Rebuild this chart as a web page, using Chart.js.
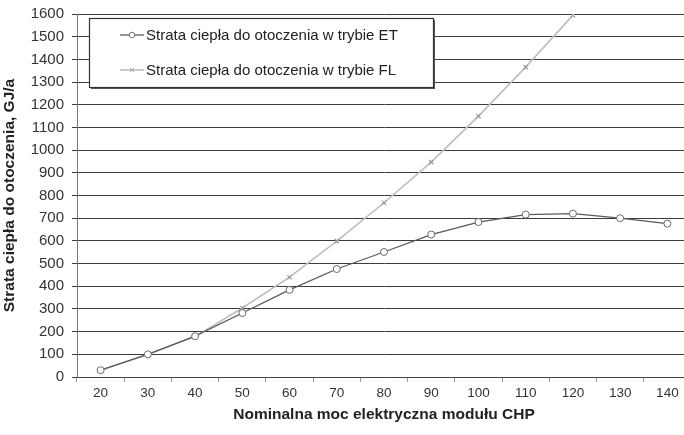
<!DOCTYPE html>
<html>
<head>
<meta charset="utf-8">
<script src="https://cdn.jsdelivr.net/npm/chart.js@4/dist/chart.umd.min.js"></script>
<style>
html,body{margin:0;padding:0;background:#fff;overflow:hidden;width:684px;height:435px;}
#wrap{position:relative;width:700px;height:435px;}
</style>
</head>
<body>
<div id="wrap"><canvas id="c"></canvas></div>
<script>
const categories = ['20','30','40','50','60','70','80','90','100','110','120','130','140'];
const lossET = [30, 100, 180, 282, 384, 476, 551, 628, 683, 716, 720, 700, 676];
const lossFL = [30, 100, 178, 304, 440, 599, 768, 947, 1150, 1366, 1595, 1830, 2060];
const seriesNames = ['Strata ciepła do otoczenia w trybie ET', 'Strata ciepła do otoczenia w trybie FL'];
const yTitle = 'Strata ciepła do otoczenia, GJ/a';
const xTitle = 'Nominalna moc elektryczna modułu CHP';

const FONT = '"Liberation Sans", Arial, sans-serif';

const legendBox = {
  id: 'legendBox',
  afterDraw(chart) {
    const ctx = chart.ctx;
    const x = 89, y = 18, w = 344, h = 69;
    ctx.save();
    ctx.fillStyle = '#555';
    ctx.fillRect(x + 2, y + 2, w, h);
    ctx.fillStyle = '#fff';
    ctx.fillRect(x, y, w, h);
    ctx.strokeStyle = '#333';
    ctx.lineWidth = 1.2;
    ctx.strokeRect(x + 0.5, y + 0.5, w, h);
    const rows = [35, 70];
    chart.data.datasets.forEach((ds, i) => {
      const ry = rows[i];
      ctx.strokeStyle = ds.borderColor;
      ctx.lineWidth = ds.borderWidth;
      ctx.beginPath(); ctx.moveTo(120, ry); ctx.lineTo(144, ry); ctx.stroke();
      if (i === 0) {
        ctx.fillStyle = '#fff'; ctx.strokeStyle = '#777'; ctx.lineWidth = 1;
        ctx.beginPath(); ctx.arc(132, ry, 2.8, 0, Math.PI * 2); ctx.fill(); ctx.stroke();
      } else {
        ctx.strokeStyle = '#aaa'; ctx.lineWidth = 1;
        ctx.beginPath(); ctx.moveTo(130, ry - 2); ctx.lineTo(134, ry + 2);
        ctx.moveTo(134, ry - 2); ctx.lineTo(130, ry + 2); ctx.stroke();
      }
      ctx.fillStyle = '#222';
      ctx.font = '15px ' + FONT;
      ctx.textBaseline = 'middle';
      ctx.textAlign = 'left';
      ctx.fillText(ds.label, 146, ry + 1);
    });
    ctx.restore();
  }
};

new Chart(document.getElementById('c'), {
  type: 'line',
  data: {
    labels: categories,
    datasets: [
      {
        label: seriesNames[0], data: lossET,
        borderColor: '#5a5a5a', borderWidth: 1.3,
        pointStyle: 'circle', pointRadius: 3.5,
        pointBackgroundColor: '#fff', pointBorderColor: '#6a6a6a', pointBorderWidth: 1,
        tension: 0, order: 1
      },
      {
        label: seriesNames[1], data: lossFL,
        borderColor: '#bdbdbd', borderWidth: 1.6,
        pointStyle: 'crossRot', pointRadius: 3,
        pointBorderColor: '#9a9a9a', pointBorderWidth: 1.2,
        tension: 0, order: 2
      }
    ]
  },
  options: {
    responsive: true,
    maintainAspectRatio: false,
    animation: false,
    devicePixelRatio: 1,
    layout: { padding: { left: 0, right: 9, top: 14, bottom: 0 } },
    plugins: { legend: { display: false }, tooltip: { enabled: false } },
    scales: {
      x: {
        type: 'category',
        offset: true,
        grid: { offset: true, drawOnChartArea: false, drawTicks: true, tickLength: 5, color: '#999' },
        border: { color: '#444', width: 1 },
        ticks: { color: '#333', font: { family: FONT, size: 13.5 }, padding: 3, maxRotation: 0, autoSkip: false },
        title: { display: true, text: xTitle, color: '#222', font: { family: FONT, size: 15.5, weight: 'bold' }, padding: { top: 2, bottom: 11 } },
        afterFit(s) { s.height = 58; s.paddingLeft = 0; s.paddingRight = 0; }
      },
      y: {
        min: 0, max: 1600,
        ticks: { stepSize: 100, color: '#333', font: { family: FONT, size: 15 }, padding: 8, callback: (v) => String(v) },
        grid: { color: '#3c3c3c', lineWidth: 1, tickLength: 5, drawTicks: true },
        border: { color: '#777', width: 1 },
        title: { display: true, text: yTitle, color: '#222', font: { family: FONT, size: 15.5, weight: 'bold' }, padding: { top: 0, bottom: 0 } },
        afterFit(s) { s.width = 77; s.paddingTop = 0; s.paddingBottom = 0; }
      }
    }
  },
  plugins: [legendBox]
});
</script>
</body>
</html>
